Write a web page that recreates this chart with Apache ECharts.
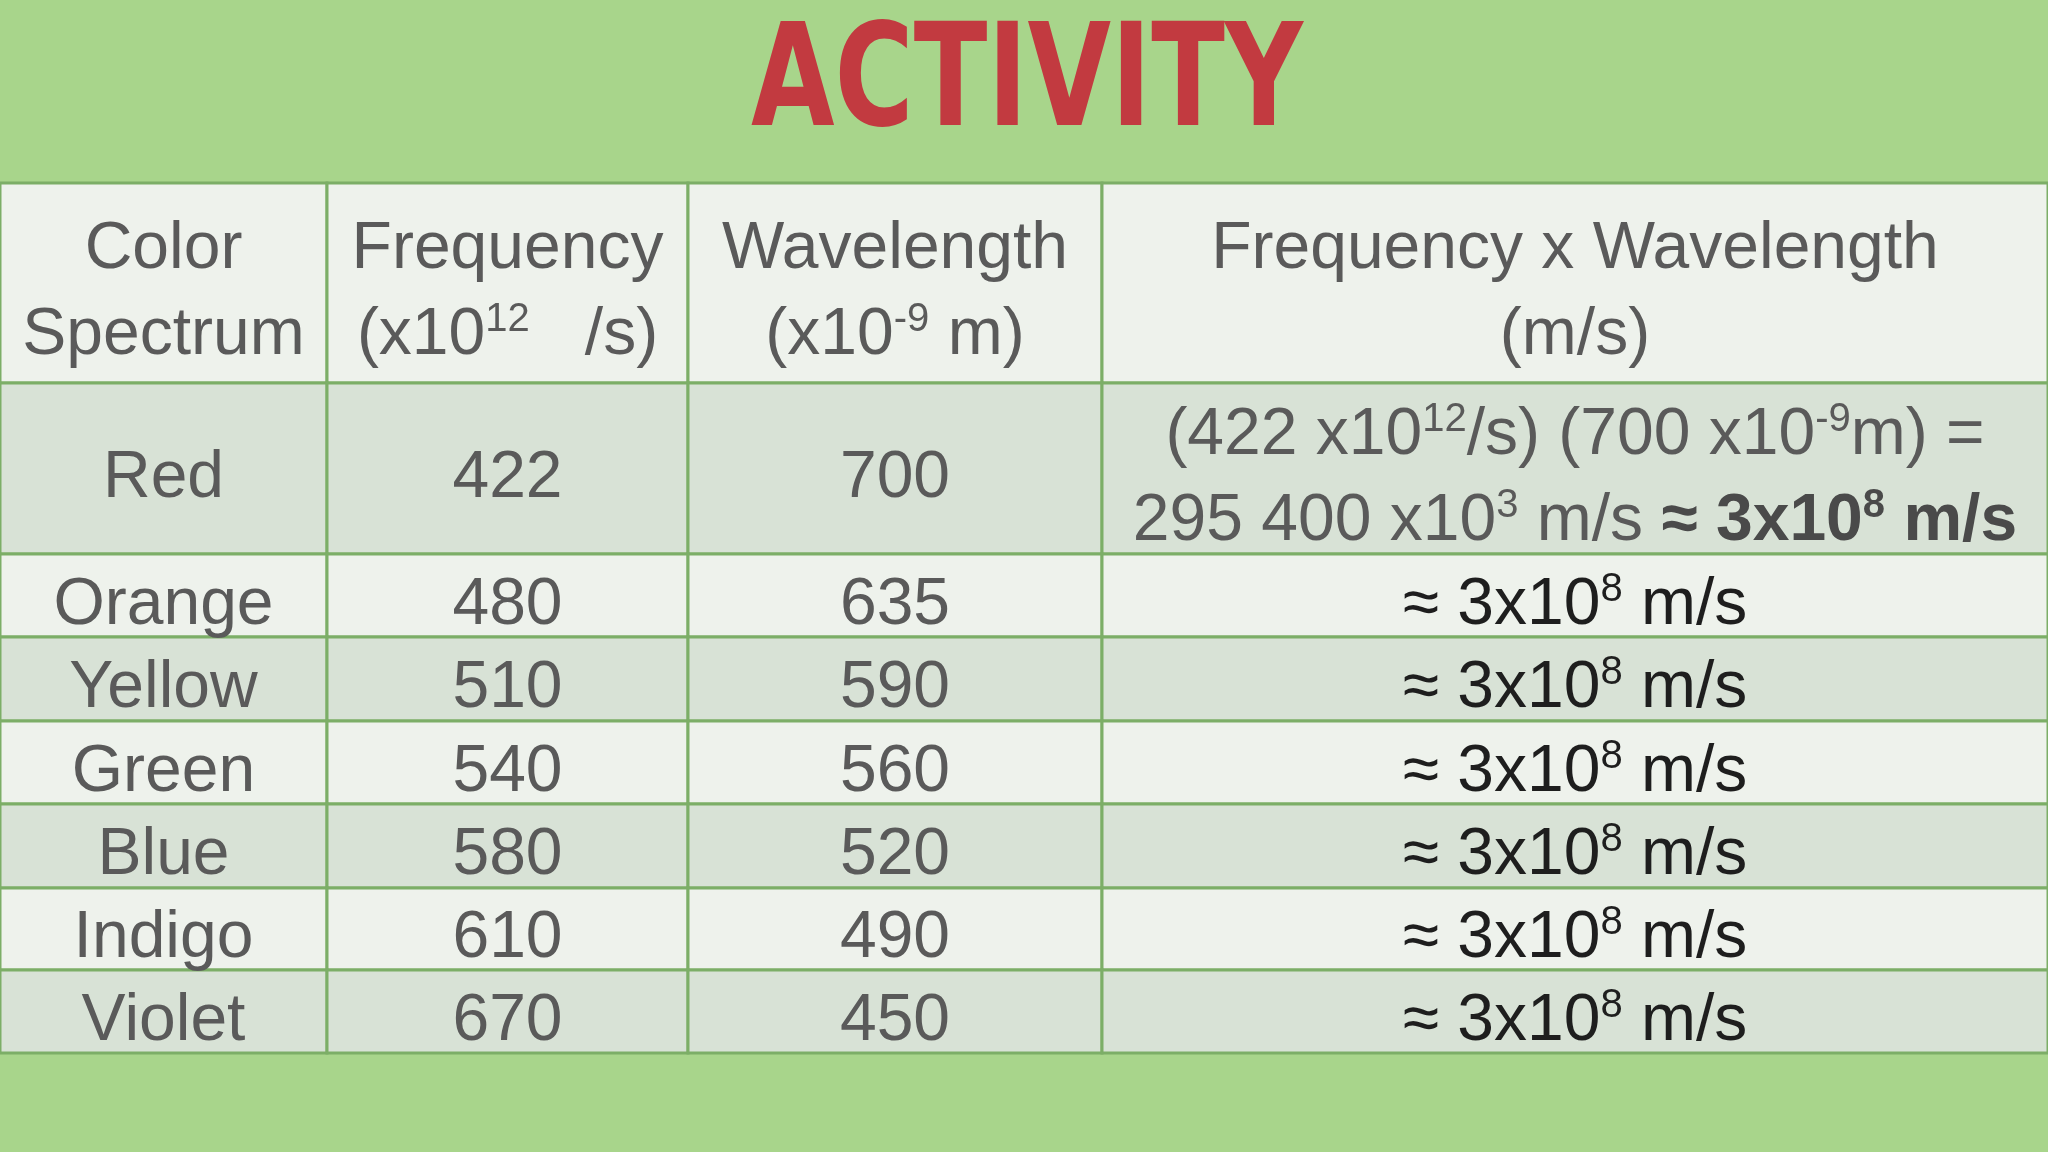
<!DOCTYPE html>
<html>
<head>
<meta charset="UTF-8">
<title>Activity</title>
<style>
  html, body { margin: 0; padding: 0; width: 100%; height: 100%; background: #a8d58b; }
  #chart { width: 2048px; height: 1152px; }
</style>
</head>
<body>
<div id="chart"></div>
<script src="https://cdn.jsdelivr.net/npm/echarts@6/dist/echarts.min.js"></script>
<script>
var colorNames = ['Red', 'Orange', 'Yellow', 'Green', 'Blue', 'Indigo', 'Violet'];
var frequencies = [422, 480, 510, 540, 580, 610, 670];
var wavelengths = [700, 635, 590, 560, 520, 490, 450];
var productExp = 8;

var chart = echarts.init(document.getElementById('chart'));

var colX = [0, 327, 688, 1102, 2048];
var rowY = [183, 383, 554, 637, 721, 804, 888, 970, 1053];
var border = '#7cae67';
var txt = '#5a5a5a';
var font = '"Liberation Sans", Arial, sans-serif';

function tok(size, fill, bold, sup) {
  return {
    fontSize: size, fill: fill, fontWeight: bold ? 'bold' : 'normal', fontFamily: font,
    verticalAlign: 'bottom', lineHeight: 86, padding: sup ? [0, 0, 29, 0] : 0
  };
}
var rich = {
  n: tok(66, txt), s: tok(40, txt, false, true),
  b: tok(66, '#4a4a4a', true), bs: tok(40, '#4a4a4a', true, true),
  k: tok(66, '#1e1e1e'), ks: tok(40, '#1e1e1e', false, true)
};

var els = [];

function cell(c, r, fill, text, lineH) {
  var x0 = colX[c], x1 = colX[c + 1], y0 = rowY[r], y1 = rowY[r + 1];
  els.push({
    type: 'rect',
    shape: { x: x0, y: y0, width: x1 - x0, height: y1 - y0 },
    style: { fill: fill, stroke: border, lineWidth: 3 }
  });
  els.push({
    type: 'text',
    x: (x0 + x1) / 2, y: (y0 + y1) / 2,
    style: {
      text: text, rich: rich, align: 'center', verticalAlign: 'middle',
      lineHeight: lineH || 86, fontSize: 66, fill: txt, fontFamily: font
    },
    z: 2
  });
}

// title
els.push({
  type: 'text', x: 1027, y: 88, scaleX: 0.8, scaleY: 0.95,
  style: {
    text: 'ACTIVITY', align: 'center', verticalAlign: 'middle',
    fontSize: 150, fontWeight: 'bold', fontFamily: '"DejaVu Sans Condensed", "DejaVu Sans", sans-serif',
    fill: '#c23a40'
  }
});

// header
var head = '#eef2ec';
cell(0, 0, head, '{n|Color}\n{n|Spectrum}', 88);
cell(1, 0, head, '{n|Frequency}\n{n|(x10}{s|12}{n|   /s)}', 112);
cell(2, 0, head, '{n|Wavelength}\n{n|(x10}{s|-9}{n| m)}', 112);
cell(3, 0, head, '{n|Frequency x Wavelength}\n{n|(m/s)}', 112);

for (var i = 0; i < colorNames.length; i++) {
  var fill = i % 2 === 0 ? '#d8e2d6' : '#eef2ec';
  cell(0, i + 1, fill, '{n|' + colorNames[i] + '}');
  cell(1, i + 1, fill, '{n|' + frequencies[i] + '}');
  cell(2, i + 1, fill, '{n|' + wavelengths[i] + '}');
  var prod;
  if (i === 0) {
    var p = frequencies[i] * wavelengths[i];
    var ps = String(p).replace(/(\d)(?=(\d{3})+$)/g, '$1 ');
    prod = '{n|(' + frequencies[i] + ' x10}{s|12}{n|/s) (' + wavelengths[i] + ' x10}{s|-9}{n|m) =}\n' +
      '{n|' + ps + ' x10}{s|3}{n| m/s }{b|≈ 3x10}{bs|' + productExp + '}{b| m/s}';
  } else {
    prod = '{k|≈ 3x10}{ks|' + productExp + '}{k| m/s}';
  }
  cell(3, i + 1, fill, prod, 86);
}

chart.setOption({
  backgroundColor: '#a8d58b',
  graphic: els
});
</script>
</body>
</html>
